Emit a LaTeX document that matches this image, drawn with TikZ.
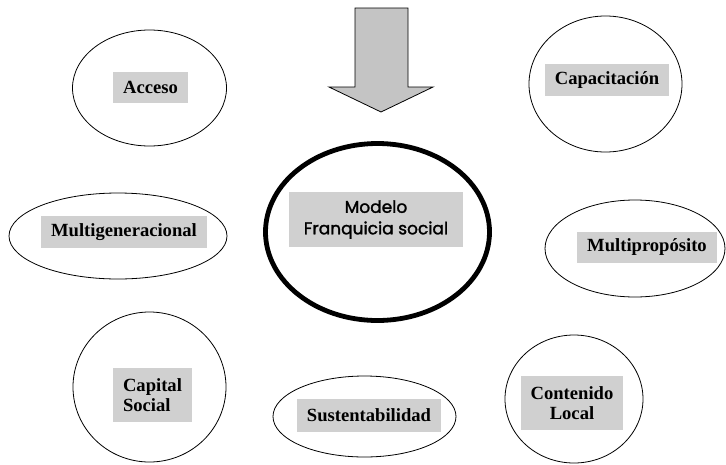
\documentclass[tikz,border=0pt]{standalone}
\usepackage{fontspec}
\setmainfont{Liberation Serif}
\newfontfamily\geofont[FakeBold=1.6]{Poppins}
\usetikzlibrary{shapes.geometric}
\definecolor{lblgray}{HTML}{D0D0D0}
\definecolor{arrgray}{HTML}{C4C4C4}
\tikzset{
  oval/.style={draw=black, line width=0.8pt, ellipse, inner sep=0pt},
  lbl/.style={fill=lblgray, inner sep=0pt, align=center, font=\fontsize{18.6}{20.5}\selectfont\bfseries},
  centerlbl/.style={fill=lblgray, inner sep=0pt, align=center, font=\fontsize{17}{21.5}\selectfont\geofont}
}
\begin{document}
\begin{tikzpicture}[x=1pt,y=-1pt]
\useasboundingbox (0,0) rectangle (726,464);
% arrow
\draw[fill=arrgray, line width=0.8pt, line join=miter] (355,8) -- (408,8) -- (408,87) -- (433,87) -- (381,112) -- (329,87) -- (355,87) -- cycle;
% ovals
\node[oval, minimum width=154pt, minimum height=116pt] (acceso) at (149.5,88) {};
\node[oval, minimum width=153pt, minimum height=136pt] (capac) at (605.5,84) {};
\node[oval, line width=4.8pt, minimum width=224pt, minimum height=177pt] (modelo) at (377.5,232) {};
\node[oval, minimum width=218pt, minimum height=86pt] (multigen) at (118,236) {};
\node[oval, minimum width=180pt, minimum height=97pt] (multiprop) at (635,248.5) {};
\node[oval, minimum width=153pt, minimum height=150pt] (capital) at (149.5,387) {};
\node[oval, minimum width=183pt, minimum height=81pt] (sust) at (364.5,416.5) {};
\node[oval, minimum width=138pt, minimum height=128pt] (conten) at (574,399) {};
% labels
\node[lbl, minimum width=75pt, minimum height=31pt] (accesoL) at (150.5,87.5) {Acceso};
\node[lbl, minimum width=124pt, minimum height=32pt] (capacL) at (607,80) {Capacitación};
\node[centerlbl, minimum width=174pt, minimum height=55pt] (modeloL) at (376,219.5) {Modelo\\Franquicia social};
\node[lbl, minimum width=166pt, minimum height=32pt] (multigenL) at (124,232) {Multigeneracional};
\node[lbl, minimum width=140pt, minimum height=31pt] (multipropL) at (647,247.5) {Multipropósito};
\node[lbl, align=left, minimum width=79pt, minimum height=54pt] (capitalL) at (152.5,395) {Capital\\Social};
\node[lbl, minimum width=144pt, minimum height=33pt] (sustL) at (369,415.5) {Sustentabilidad};
\node[lbl, minimum width=102pt, minimum height=54pt] (contenL) at (572,403) {Contenido\\Local};
\end{tikzpicture}
\end{document}
